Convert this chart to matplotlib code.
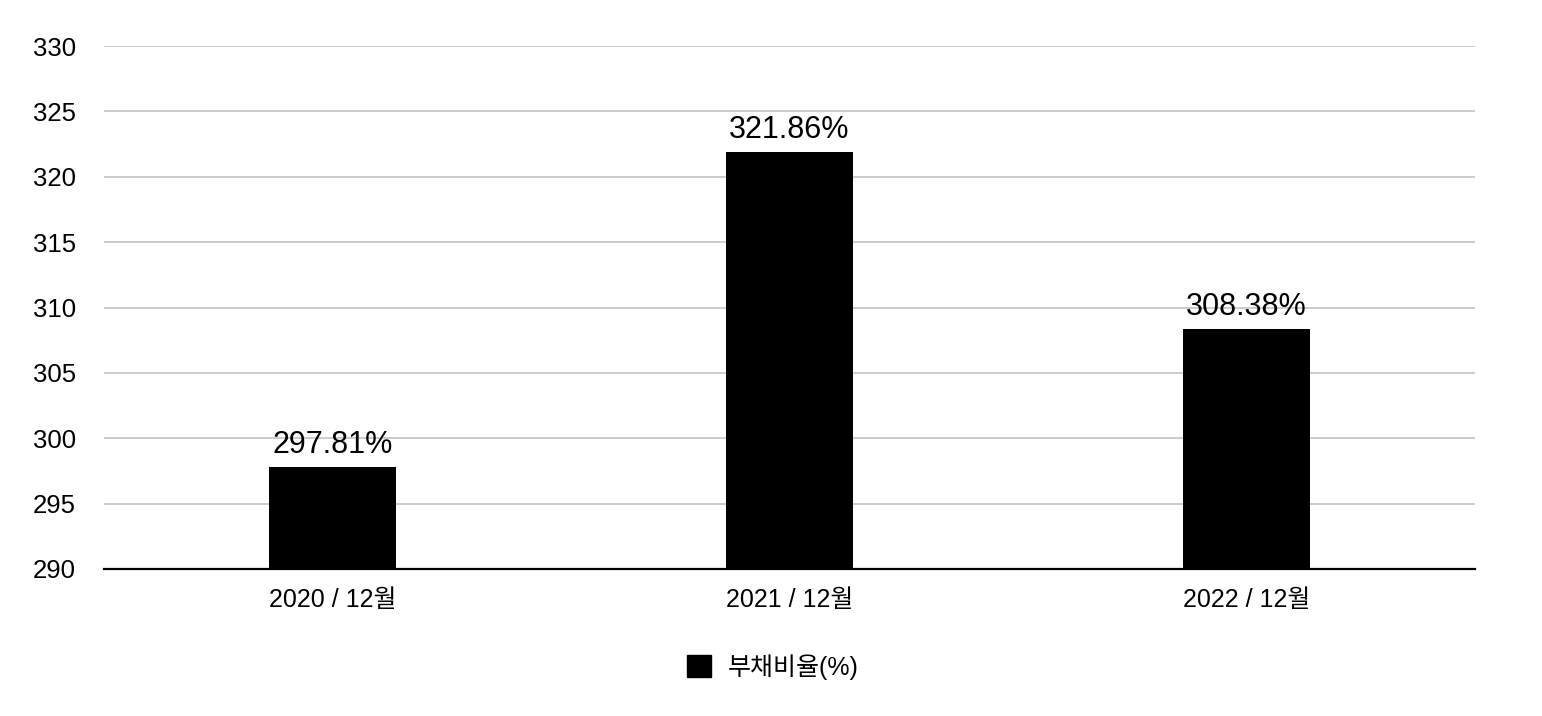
import matplotlib.pyplot as plt
from matplotlib.patches import Patch

plt.rcParams["font.family"] = ["Liberation Sans", "Noto Sans CJK KR", "DejaVu Sans"]

categories = ["2020 / 12월", "2021 / 12월", "2022 / 12월"]
debt_ratio = [297.81, 321.86, 308.38]  # %
series_name = "부채비율(%)"

fig = plt.figure(figsize=(15.42, 7.16), dpi=100)
ax = fig.add_axes([104 / 1542, 1 - 569 / 716, (1475 - 104) / 1542, (569 - 46) / 716])

x = range(len(categories))
bars = ax.bar(x, debt_ratio, width=0.278, color="black", zorder=3)

for xi, v in zip(x, debt_ratio):
    ax.annotate(f"{v:.2f}%", (xi, v), xytext=(0, 5), textcoords="offset points",
                ha="center", va="bottom", fontsize=22)

ax.set_xlim(-0.5, len(categories) - 0.5)
ax.set_ylim(290, 330)
ax.set_yticks(range(290, 331, 5))
ax.set_xticks(list(x))
ax.set_xticklabels(categories)

ax.tick_params(axis="y", length=0, pad=20, labelsize=18.5)
ax.tick_params(axis="x", length=0, pad=13.5, labelsize=18)

ax.grid(axis="y", color="#bdbdbd", linewidth=1.1, zorder=0)
for side in ["top", "right", "left"]:
    ax.spines[side].set_visible(False)
ax.spines["bottom"].set_linewidth(1.6)
ax.spines["bottom"].set_zorder(4)

fig.legend(handles=[Patch(color="black", label=series_name)],
           loc="center", bbox_to_anchor=(773 / 1542, 1 - 667 / 716),
           frameon=False, fontsize=18, handlelength=0.95, handleheight=0.95,
           handletextpad=0.7)

fig.savefig("out.png", dpi=100)
